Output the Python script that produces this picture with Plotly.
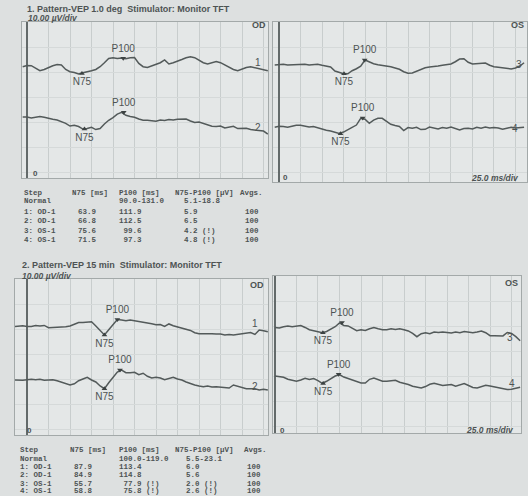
import plotly.graph_objects as go

W, H = 528, 496

# ---------------- data ----------------
# waveforms in µV, sampled every 5 ms; first sample time per trace
A1_t0, A1_uv = -5, [0, 0.5, 0.4, -0.7, -1.6, -1.1, -0.3, 0.4, 0.9, 0.7, -1.1, -2.0, -2.3, -2.9, -2.4, -2.1, -1.6, -1.1, 0, 1.6,
                    3.3, 3.6, 3.3, 3.5, 3.2, 3.6, 3.7, 1.3, 0, -0.3, 0.3, 0.9, 1.6, 2.7, 1.1, 1.6, 2.4, 2.9, 3.6, 4.0,
                    3.6, 2.7, 1.6, 1.1, 1.6, 2.1, 1.6, 0.7, 0, -1.1, -1.6, -0.8, -0.3, 0, -0.4, -0.8, -1.1, -1.6]
A2_t0, A2_uv = -5, [0.1, 0.1, -0.3, -0.1, 0.3, 0, -0.5, -0.8, -1.1, -1.7, -2.4, -3.5, -3.2, -3.7, -4.7, -4.5, -4.0, -4.9, -4.5, -2.7,
                    -1.2, -0.1, 1.3, 2.0, 0.8, 0.3, 0, -0.7, -1.2, -1.2, -1.3, -1.6, -1.1, -1.3, -0.9, -1.1, -0.8, -0.7, -0.7, -1.5,
                    -2.1, -1.9, -2.5, -3.2, -3.6, -3.7, -3.5, -4.3, -4.0, -3.6, -4.5, -4.3, -4.4, -4.9, -5.1, -5.1, -5.5, -6.7]
B3_t0, B3_uv = -5, [0, 0.3, 0.3, 0, 0.1, 0.3, 0.1, 0.3, 0, 0.3, 0.3, -0.1, -0.5, -0.8, -2.4, -2.9, -3.5, -3.5, -2.3, -1.5,
                    -0.5, 2.0, 1.2, 0.5, 0.1, -0.1, -0.4, -0.7, -1.2, -1.7, -2.7, -3.3, -3.2, -2.4, -1.7, -1.1, -0.8, -0.7, -0.4, -0.1,
                    0, 0.4, 1.3, 2.4, 2.5, 1.1, 0.4, 0.5, 0.8, 0.8, -0.1, -0.7, -0.9, -1.2, -1.6, -1.6, -1.2, -0.4, 0.9]
B4_t0, B4_uv = -5, [0, 0.4, 0.3, 0, 0.4, 0.8, 0.8, 0.4, 0.1, 0.3, -0.3, -0.8, -1.2, -1.5, -1.9, -2.5, -1.9, -1.1, 0, 0.9,
                    3.6, 3.2, 1.6, 2.9, 3.6, 3.6, 2.3, 1.2, 0.7, 0.3, -1.3, -0.1, -0.4, 0, -0.9, -0.8, 0.1, -0.3, -0.7, -0.1,
                    -0.4, 0.1, -0.5, -1.1, -0.5, -0.4, -0.7, 0, -0.4, 0.1, -0.3, -0.1, -0.3, -0.8, -0.4, 0, -0.3, 0, 0]
C1_t0, C1_uv = -15, [0, 0.1, 0.4, 0.1, 0.1, 0.5, 0.3, 0.5, -0.4, -0.3, -0.3, -0.3, 0, 0.3, 0.9, 1.7, 1.7, 1.9, 2.0, 0.3,
                     -1.3, -3.3, -1.2, 0.9, 2.9, 2.7, 2.4, 2.7, 2.4, 2.4, 2.1, 1.6, 1.2, 0.8, 0.9, 0.1, 1.1, 0.4, -0.1, -0.4,
                     -0.8, -1.5, -2.4, -2.8, -2.8, -2.7, -2.8, -2.9, -2.9, -3.3, -3.1, -3.3, -3.1, -2.8, -2.7, -2.3, -3.1, -1.3, -1.6, -2.0]
C2_t0, C2_uv = -15, [0, -0.1, -0.1, 0.1, 0.3, 0.1, 0.3, -0.1, 0.1, 0.1, -0.3, -0.8, -1.3, -2.0, -1.5, -0.3, 0.4, 1.1, 0, -0.8,
                     -2.4, -3.5, -1.1, 1.3, 3.2, 4.0, 2.9, 2.9, 3.1, 2.1, 2.7, 1.5, 0.8, 1.1, 0.8, 0.1, 0.7, 1.1, 0.4, 0,
                     -0.8, -1.5, -2.0, -2.4, -2.7, -2.4, -2.8, -2.7, -2.8, -2.9, -3.2, -2.0, -2.4, -2.8, -3.5, -3.5, -3.5, -4.0, -3.7, -4.0]
D3_t0, D3_uv = 0, [-0.3, -0.5, 0, 0.3, 0, 0.3, 0.5, -0.3, -1.2, -1.6, -2.0, -2.4, -1.9, -0.8, 0, 1.5, 0.5, 0.3, -0.7, -1.6,
                   -1.2, -1.5, -0.8, -0.3, -0.8, -1.2, -1.2, -0.8, -1.1, -0.8, -1.2, -1.7, -2.7, -4.0, -2.8, -2.4, -2.8, -2.1, -2.3, -2.1,
                   -2.3, -2.5, -2.1, -2.4, -1.9, -2.0, -2.4, -2.1, -1.7, -2.4, -3.6, -3.6, -3.5, -3.7, -2.3, -2.7, -4.0, -5.6]
D4_t0, D4_uv = 0, [0.9, 0.8, 0.4, -0.4, -0.9, -1.2, -0.7, 0, -0.5, -0.1, -0.9, -2.0, -1.2, -0.1, 0.9, 1.5, 0.5, -0.1, -0.7, -1.3,
                   -1.9, -1.9, -0.4, 0.1, -0.4, -1.2, -1.2, -0.9, -0.8, -1.6, -2.0, -2.5, -3.2, -3.7, -3.9, -3.3, -2.4, -2.0, -2.5, -2.9,
                   -2.7, -2.5, -3.2, -2.7, -2.1, -2.9, -3.7, -3.9, -3.3, -2.8, -3.1, -3.5, -3.9, -4.3, -4.5, -4.4, -4.0, -3.6]
STEP_MS = 5

# peak markers: latency (ms) and amplitude (µV) per trace, order A1 A2 B3 B4 C1 C2 D3 D4
n75_ms  = [63.9, 66.8, 75.6, 71.5, 90.0, 90.0, 55.7, 56.0]
n75_uv  = [-2.7, -4.7, -3.5, -2.6, -3.3, -3.5, -2.4, -2.1]
p100_ms = [111.9, 112.5, 99.6, 97.3, 105.0, 108.0, 77.9, 74.0]
p100_uv = [3.4, 2.0, 2.0, 3.7, 2.9, 4.0, 1.7, 1.6]
trace_names = ["1", "2", "3", "4", "1", "2", "3", "4"]

# result tables
table_header = ["Step", "N75 [ms]", "P100 [ms]", "N75-P100 [µV]", "Avgs."]
t1_rows = [["Normal", "", "90.0-131.0", "5.1-18.8", ""],
           ["1: OD-1", "63.9", "111.9", "5.9", "100"],
           ["2: OD-1", "66.8", "112.5", "6.5", "100"],
           ["3: OS-1", "75.6", " 99.6", "4.2 (!)", "100"],
           ["4: OS-1", "71.5", " 97.3", "4.8 (!)", "100"]]
t2_rows = [["Normal", "", "100.0-119.0", "5.5-23.1", ""],
           ["1: OD-1", "87.9", "113.4", "6.0", "100"],
           ["2: OD-1", "84.9", "114.8", "5.6", "100"],
           ["3: OS-1", "55.7", " 77.9 (!)", "2.0 (!)", "100"],
           ["4: OS-1", "58.8", " 75.8 (!)", "2.6 (!)", "100"]]
titles = ["1. Pattern-VEP 1.0 deg  Stimulator: Monitor TFT",
          "2. Pattern-VEP 15 min  Stimulator: Monitor TFT"]

# ---------------- layout (pixels) ----------------
panels = {
    "A": dict(box=(22, 268, 22, 178), xr=(-5.8, 280.2)),
    "B": dict(box=(273, 527, 22, 182), xr=(-7.0, 288.4)),
    "C": dict(box=(15, 268, 279, 435), xr=(-14.0, 280.2)),
    "D": dict(box=(273, 521, 276, 433), xr=(-2.3, 286.0)),
}
PX_PER_UV = 2.5
trace_defs = [("A", A1_t0, A1_uv, 66.7), ("A", A2_t0, A2_uv, 117.3),
              ("B", B3_t0, B3_uv, 65.0), ("B", B4_t0, B4_uv, 127.3),
              ("C", C1_t0, C1_uv, 326.7), ("C", C2_t0, C2_uv, 380.0),
              ("D", D3_t0, D3_uv, 326.7), ("D", D4_t0, D4_uv, 378.3)]
label_px = [(263, 63), (263, 127), (524, 64), (520, 128),
            (260, 323), (260, 386), (515, 337), (517, 383)]

TRACE_C = "#535a5a"
TEXT_C = "#4d5353"
GRID_C = "#c8cdcd"
SANS = "Liberation Sans, Arial, sans-serif"
MONO = "Liberation Mono, DejaVu Sans Mono, monospace"

fig = go.Figure()
layout = dict(width=W, height=H, margin=dict(l=0, r=0, t=0, b=0),
              paper_bgcolor="#dde0e0", plot_bgcolor="#e4e7e7", showlegend=False)

axis_idx = {}
for i, (key, p) in enumerate(panels.items(), start=1):
    x0, x1, y0, y1 = p["box"]
    axis_idx[key] = i
    sfx = "" if i == 1 else str(i)
    yr = (-(y1 - y0) / PX_PER_UV, 0)
    layout["xaxis" + sfx] = dict(domain=[x0 / W, x1 / W], range=list(p["xr"]), anchor="y" + sfx,
                                 showgrid=True, gridcolor=GRID_C, gridwidth=1, tick0=0, dtick=25,
                                 showticklabels=False, ticks="", zeroline=True, zerolinecolor="#636a6a",
                                 zerolinewidth=1.5, showline=True, mirror=True, linecolor="#a3a9a9",
                                 linewidth=1, fixedrange=True)
    layout["yaxis" + sfx] = dict(domain=[1 - y1 / H, 1 - y0 / H], range=list(yr), anchor="x" + sfx,
                                 showgrid=True, gridcolor="#d5d9d9", gridwidth=1, tick0=0, dtick=10,
                                 showticklabels=False, ticks="", zeroline=False, showline=True,
                                 mirror=True, linecolor="#a3a9a9", linewidth=1, fixedrange=True)

annotations = []


def px(x, y, text, size=9, bold=False, family=SANS, xanchor="left", italic=False):
    txt = text
    if bold:
        txt = "<b>" + txt + "</b>"
    if italic:
        txt = "<i>" + txt + "</i>"
    annotations.append(dict(x=x / W, y=1 - y / H, xref="paper", yref="paper", text=txt, showarrow=False,
                            xanchor=xanchor, yanchor="middle",
                            font=dict(family=family, size=size, color=TEXT_C)))


for j, (key, t0, uv, base_px) in enumerate(trace_defs):
    i = axis_idx[key]
    sfx = "" if i == 1 else str(i)
    y0 = panels[key]["box"][2]
    off = -(base_px - y0) / PX_PER_UV
    t = [t0 + STEP_MS * k for k in range(len(uv))]
    fig.add_trace(go.Scatter(x=t, y=[v + off for v in uv], mode="lines",
                             line=dict(color=TRACE_C, width=1.5), xaxis="x" + sfx, yaxis="y" + sfx,
                             hoverinfo="skip"))
    fig.add_trace(go.Scatter(x=[n75_ms[j]], y=[n75_uv[j] + off], mode="markers+text", text=["N75"],
                             textposition="bottom center", textfont=dict(family=SANS, size=10, color=TEXT_C),
                             marker=dict(symbol="triangle-up", size=5, color="#3c4242"),
                             xaxis="x" + sfx, yaxis="y" + sfx, hoverinfo="skip", cliponaxis=False))
    fig.add_trace(go.Scatter(x=[p100_ms[j]], y=[p100_uv[j] + off], mode="markers+text", text=["P100"],
                             textposition="top center", textfont=dict(family=SANS, size=10, color=TEXT_C),
                             marker=dict(symbol="triangle-down", size=5, color="#3c4242"),
                             xaxis="x" + sfx, yaxis="y" + sfx, hoverinfo="skip", cliponaxis=False))
    lx, ly = label_px[j]
    px(lx, ly, trace_names[j], size=10, xanchor="right")

# section titles and panel labels
px(25, 9, titles[0], size=9, bold=True)
px(26, 18, "10.00 µV/div", size=8.5, bold=True, italic=True)
px(268, 25, "OD", size=9, bold=True, xanchor="right")
px(526, 25, "OS", size=9, bold=True, xanchor="right")
px(31, 173, "0", size=8, bold=True)
px(281, 177, "0", size=8, bold=True)
px(521, 178, "25.0 ms/div", size=8.5, bold=True, italic=True, xanchor="right")

px(20, 265, titles[1], size=9, bold=True)
px(20, 276, "10.00 µV/div", size=8.5, bold=True, italic=True)
px(266, 285, "OD", size=9, bold=True, xanchor="right")
px(520, 283, "OS", size=9, bold=True, xanchor="right")
px(25, 430, "0", size=8, bold=True)
px(278, 430, "0", size=8, bold=True)
px(516, 430, "25.0 ms/div", size=8.5, bold=True, italic=True, xanchor="right")

# tables
col_x1 = [22, 70, 117, 173, 238]
val_x1 = [22, 76, 117, 182, 243]
row_y1 = [193, 201, 212, 221, 231, 240]
for c, h in enumerate(table_header):
    px(col_x1[c], row_y1[0], h, size=7.5, family=MONO, bold=True)
for r, row in enumerate(t1_rows):
    for c, v in enumerate(row):
        if v:
            px(val_x1[c], row_y1[r + 1], v.replace(" ", "&nbsp;"), size=7.5, family=MONO, bold=True)

col_x2 = [18, 68, 117, 173, 242]
val_x2 = [18, 72, 117, 184, 245]
row_y2 = [450, 459, 467, 475, 484, 491]
for c, h in enumerate(table_header):
    px(col_x2[c], row_y2[0], h, size=7.5, family=MONO, bold=True)
for r, row in enumerate(t2_rows):
    for c, v in enumerate(row):
        if v:
            px(val_x2[c], row_y2[r + 1], v.replace(" ", "&nbsp;"), size=7.5, family=MONO, bold=True)

layout["annotations"] = annotations
fig.update_layout(**layout)
fig.write_html("out.html", config={"displayModeBar": False},
               post_script="document.body.style.margin='0';document.body.style.overflow='hidden';")
